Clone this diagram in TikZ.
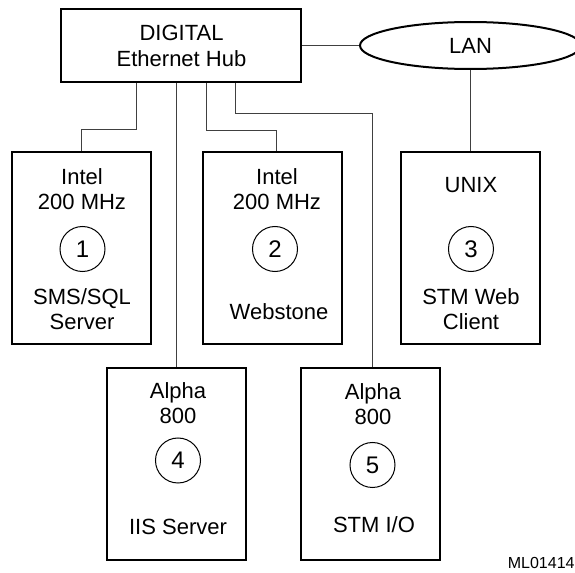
\documentclass[tikz,border=0pt]{standalone}
\usepackage{fontspec}
\setmainfont{Liberation Sans}
\usetikzlibrary{shapes.geometric}
\tikzstyle{box} = [draw, line width=1pt, minimum width=69.5pt, minimum height=96pt, inner sep=0pt]
\tikzstyle{hubbox} = [draw, line width=1pt, minimum width=120pt, minimum height=36.5pt, align=center, font=\fontsize{11pt}{13pt}\selectfont]
\tikzstyle{lanshape} = [draw, ellipse, line width=1pt, minimum width=110.5pt, minimum height=23.5pt, inner sep=0pt, font=\fontsize{11pt}{13pt}\selectfont]
\tikzstyle{disc} = [draw, circle, line width=0.5pt, minimum size=22.5pt, inner sep=0pt, font=\fontsize{12pt}{14pt}\selectfont]
\tikzstyle{txt} = [inner sep=0pt, align=center, font=\fontsize{11pt}{12.5pt}\selectfont]
\tikzstyle{wire} = [line width=0.5pt, black!75]

\begin{document}
\begin{tikzpicture}[x=0.5pt, y=-0.5pt]
\useasboundingbox (0,0) rectangle (575,573);

\node[hubbox] (hub) at (181.5,45.5) {DIGITAL\\Ethernet Hub};
\node[lanshape] (lan) at (470.5,45.5) {LAN};

% top row
\node[box] (box1) at (81.5,248.5) {};
\node[box] (box2) at (273,248.5) {};
\node[box] (box3) at (470.5,248.5) {};
\node[txt] (cpu1) at (82,189.5) {Intel\\200 MHz};
\node[disc] (n1) at (82.5,249) {1};
\node[txt] (role1) at (82,309.5) {SMS/SQL\\Server};
\node[txt] (cpu2) at (277,189.5) {Intel\\200 MHz};
\node[disc] (n2) at (275,249) {2};
\node[txt] (role2) at (279,312) {Webstone};
\node[txt] (cpu3) at (471,185) {UNIX};
\node[disc] (n3) at (471,249) {3};
\node[txt] (role3) at (471,309.5) {STM Web\\Client};

% bottom row
\node[box] (box4) at (177,464.5) {};
\node[box] (box5) at (371,464.5) {};
\node[txt] (cpu4) at (178,403.5) {Alpha\\800};
\node[disc] (n4) at (178,460.5) {4};
\node[txt] (role4) at (178,526.5) {IIS Server};
\node[txt] (cpu5) at (373,404) {Alpha\\800};
\node[disc] (n5) at (372.5,465) {5};
\node[txt] (role5) at (374,525) {STM I/O};

\node[anchor=east, inner sep=0pt, font=\fontsize{8pt}{9pt}\selectfont] (fig) at (575,563) {ML01414};

% cabling
\draw[wire] ([xshift=-22.25pt]hub.south) -- ++(0,47) -| (box1.north);
\draw[wire] (box4.north |- hub.south) -- (box4.north);
\draw[wire] ([xshift=12.6pt]hub.south) -- ++(0,48) -| ([xshift=2pt]box2.north);
\draw[wire] ([xshift=27.25pt]hub.south) -- ++(0,31) -| ([xshift=1pt]box5.north);
\draw[wire] (hub.east) -- (lan.west);
\draw[wire] (box3.north |- lan.south) -- (box3.north);

\end{tikzpicture}
\end{document}
